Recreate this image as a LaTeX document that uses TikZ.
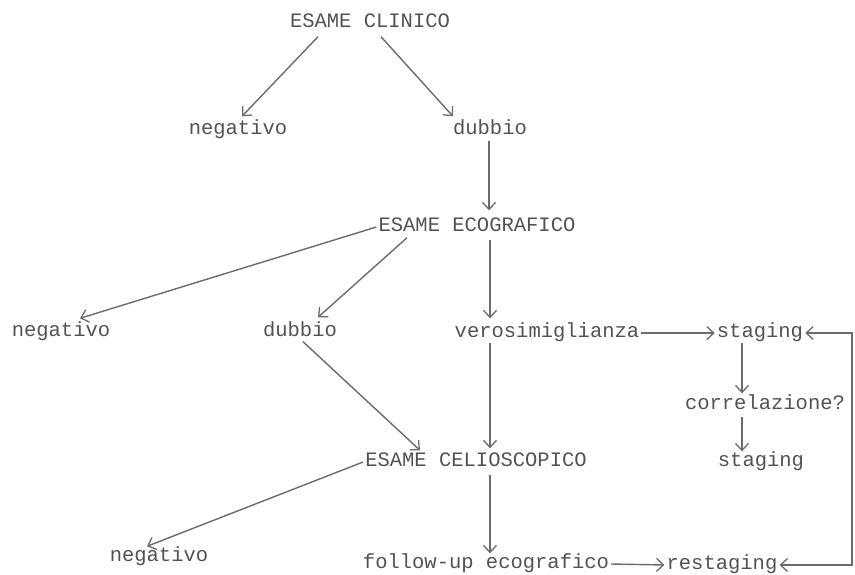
\documentclass[tikz,border=0pt]{standalone}
\usepackage{fontspec}
\newfontfamily\tw{Liberation Mono}
\usetikzlibrary{arrows.meta,calc}
\tikzset{
  lbl/.style={font=\tw\fontsize{20.5}{22}\selectfont, text=black!68, inner sep=2pt, text height=12pt, text depth=3pt, anchor=center},
  tip/.style={Straight Barb[length=7pt,width=13pt,line width=1.3pt]},
  arr/.style={draw=black!58, line width=1.4pt, -{Straight Barb[length=7pt,width=13pt,line width=1.3pt]}},
  lin/.style={draw=black!58, line width=1.4pt}
}
\begin{document}
\begin{tikzpicture}[x=1pt,y=-1pt]
\useasboundingbox (0,0) rectangle (855,574);
\node[lbl] (clin) at (370,23) {ESAME CLINICO};
\node[lbl] (neg1) at (238,130) {negativo};
\node[lbl] (dub1) at (490,130) {dubbio};
\node[lbl] (eco) at (477,227) {ESAME ECOGRAFICO};
\node[lbl] (neg2) at (61,332) {negativo};
\node[lbl] (dub2) at (300,332) {dubbio};
\node[lbl] (vero) at (547,333) {verosimiglianza};
\node[lbl] (stag1) at (760,333) {staging};
\node[lbl] (corr) at (765,405) {correlazione?};
\node[lbl] (stag2) at (761,462) {staging};
\node[lbl] (celio) at (476,462) {ESAME CELIOSCOPICO};
\node[lbl] (neg3) at (159,557) {negativo};
\node[lbl] (fol) at (486,564) {follow-up ecografico};
\node[lbl] (rest) at (722,565) {restaging};
\coordinate (c1) at (852,333);
\coordinate (c2) at (852,565);
% connectors
\draw[arr] ($(clin.south)+(-52,4)$) -- ($(neg1.north)+(4,-4)$);
\draw[arr] ($(clin.south)+(11,4)$) -- ($(dub1.north)+(-37,-4)$);
\draw[arr] ($(dub1.south)+(-1,1)$) -- ($(eco.north)+(12,-7)$);
\draw[arr] (eco.west) -- ($(neg2.north)+(19,-4)$);
\draw[arr] ($(eco.south)+(-70,1)$) -- ($(dub2.north)+(18,-5)$);
\draw[arr] ($(eco.south)+(13,3)$) -- ($(vero.north)+(-57,-5)$);
\draw[arr] (vero.east) -- (stag1.west);
\draw[arr] ($(stag1.south)+(-18,0)$) -- ($(corr.north)+(-23,-2)$);
\draw[arr] ($(corr.south)+(-23,2)$) -- ($(stag2.north)+(-19,-1)$);
\draw[arr] ($(dub2.south)+(3,0)$) -- ($(celio.north)+(-56,-2)$);
\draw[arr] (celio.west) -- ($(neg3.north)+(-12,-1)$);
\draw[arr] ($(vero.south)+(-57,0)$) -- ($(celio.north)+(14,-4)$);
\draw[arr] ($(celio.south)+(14,3)$) -- ($(fol.north)+(4,-1)$);
\draw[arr] (fol.east) -- (rest.west);
\draw[lin, {Straight Barb[length=7pt,width=13pt,line width=1.3pt]}-{Straight Barb[length=7pt,width=13pt,line width=1.3pt]}] (stag1.east) -- (c1) -- (c2) -- (rest.east);
\end{tikzpicture}
\end{document}
